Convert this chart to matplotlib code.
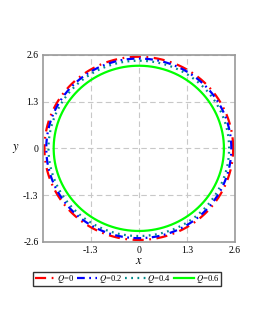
import numpy as np
import matplotlib
matplotlib.use("Agg")
from matplotlib import pyplot as plt

# shadow radii
charges = ["0", "0.2", "0.4", "0.6"]
radii = [2.55, 2.50, 2.44, 2.30]
colors = ["#ff0000", "#0000ff", "#008b8b", "#00ff00"]
styles = [(0, (5, 2.5, 0.8, 2.5)), (0, (3.5, 2, 0.8, 2)), (0, (0.8, 2)), "-"]
ticks = [-2.6, -1.3, 0, 1.3, 2.6]
tick_labels = ["-2.6", "-1.3", "0", "1.3", "2.6"]

plt.rcParams["font.family"] = ["Liberation Serif", "DejaVu Serif"]
plt.rcParams["mathtext.fontset"] = "stix"

fig = plt.figure(figsize=(2.58, 3.33), dpi=100)
ax = fig.add_axes([0.165, 0.274, 0.746, 0.561])

theta = np.linspace(0, 2 * np.pi, 400)
for q, r, c, ls in zip(charges, radii, colors, styles):
    ax.plot(r * np.cos(theta), r * np.sin(theta), color=c, ls=ls, lw=1.6,
            label=f"$Q$=" + q)

ax.set_xlim(-2.6, 2.6)
ax.set_ylim(-2.6, 2.6)
ax.set_xticks(ticks[1:])
ax.set_xticklabels(tick_labels[1:])
ax.set_yticks(ticks)
ax.set_yticklabels(tick_labels)
ax.tick_params(labelsize=7, length=0, pad=3)
ax.grid(True, color="#c8c8c8", ls=(0, (5, 3)), lw=0.8)
for s in ax.spines.values():
    s.set_color("#999999")
    s.set_linewidth(1.2)

ax.set_xlabel("$x$", fontsize=9, labelpad=0)
ax.set_ylabel("$y$", fontsize=9, rotation=0, labelpad=5, va="center")

ax.legend(loc="upper center", bbox_to_anchor=(0.44, -0.16), ncol=4, fontsize=6.2,
          frameon=True, fancybox=False, edgecolor="black", handlelength=2.4,
          handletextpad=0.2, columnspacing=0.3, borderpad=0.15, borderaxespad=0)

fig.savefig("out.png", dpi=100)
